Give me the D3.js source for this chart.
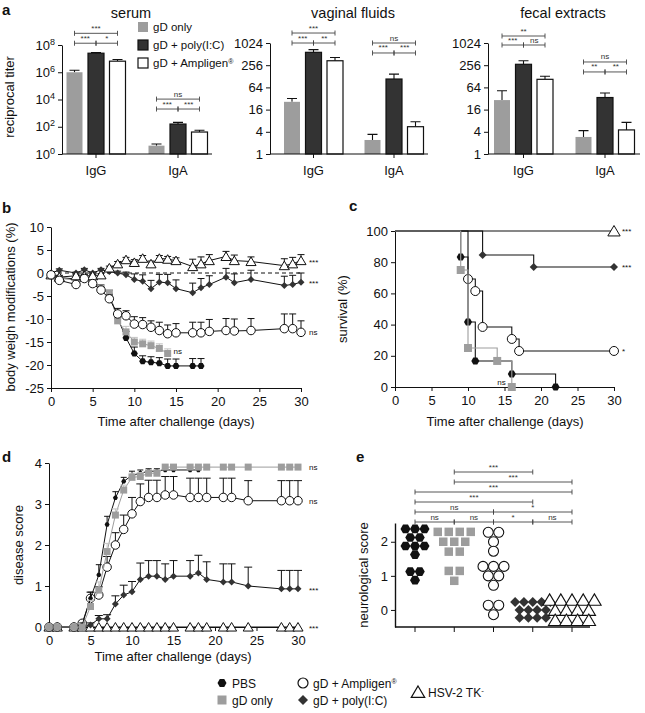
<!DOCTYPE html>
<html>
<head>
<meta charset="utf-8">
<script src="https://cdn.jsdelivr.net/npm/d3@7"></script>
<style>
  body { margin: 0; background: #fff; }
</style>
</head>
<body>
<div id="chart"></div>
<script>
// ---------- panel a : reciprocal titers ----------
const isotypes = ['IgG', 'IgA'];
const groupsA = ['gD only', 'gD + poly(I:C)', 'gD + Ampligen'];

const serumMean = [[1.0e6, 2.5e7, 6.5e6], [4.1, 158, 41]];
const serumUpper = [[1.4e6, 2.8e7, 8.7e6], [5.4, 209, 55]];
const vaginalMean = [[26, 572, 338], [2.4, 108, 5.5]];
const vaginalUpper = [[32, 676, 416], [3.4, 147, 7.5]];
const fecalMean = [[29, 271, 106], [2.9, 34, 4.5]];
const fecalUpper = [[52, 338, 128], [4.3, 45, 7.2]];

// isotype, from group, to group, label, bracket height (titer units)
const serumStats = [
  ['IgG', 0, 2, '***', 7.2e8], ['IgG', 0, 1, '***', 1.35e8], ['IgG', 1, 2, '*', 1.35e8],
  ['IgA', 0, 2, 'ns', 1.07e4], ['IgA', 0, 1, '***', 2000], ['IgA', 1, 2, '***', 2000]
];
const vaginalStats = [
  ['IgG', 0, 2, '***', 1910], ['IgG', 0, 1, '***', 1024], ['IgG', 1, 2, '**', 1024],
  ['IgA', 0, 2, 'ns', 1024], ['IgA', 0, 1, '***', 549], ['IgA', 1, 2, '***', 549]
];
const fecalStats = [
  ['IgG', 0, 2, '**', 1585], ['IgG', 0, 1, '***', 903], ['IgG', 1, 2, 'ns', 903],
  ['IgA', 0, 2, 'ns', 313], ['IgA', 0, 1, '**', 168], ['IgA', 1, 2, '**', 168]
];
const serumTicks = [1, 1e2, 1e4, 1e6, 1e8];
const mucosalTicks = [1, 4, 16, 64, 256, 1024];

// ---------- panel b : body weight (%) ----------
const days = [0, 1, 3, 4, 5, 6, 7, 8, 9, 10, 11, 12, 13, 14, 15, 17, 18, 19, 21, 22, 24, 28, 29, 30];
const daysPBS = [0, 1, 3, 4, 5, 6, 7, 8, 9, 10, 11, 12, 13, 14, 15, 17, 18];
const daysGDb = [0, 1, 3, 4, 5, 6, 7, 8, 9, 10, 11, 12, 13, 14];

const weightTK = [-0.4, -0.9, -0.6, -0.6, -0.6, -0.4, 1.1, 2, 2.9, 2.3, 3.2, 2, 3.2, 3, 2.7, 1.4, 2, 2.7, 3.6, 2.7, 2.5, 1.6, 2, 2.7];
const weightTKErr = [0.3, 0.4, 0.3, 0.3, 0.3, 0.3, 0.4, 0.5, 0.5, 0.6, 0.6, 0.6, 0.6, 0.6, 0.6, 1.6, 1.5, 1.3, 1.1, 1.2, 1.0, 1.5, 1.4, 1.3];
const weightPolyIC = [0, 0.6, 0, 0.7, 0, 0.7, 0.3, 0, -0.4, -1.4, -1.8, -3.4, -2, -2.1, -3.4, -4.3, -3.2, -2.5, -0.9, -2.1, -1.4, -2.7, -2.5, -2];
const weightPolyICErr = [0.2, 0.3, 0.2, 0.3, 0.2, 0.3, 0.3, 0.4, 0.6, 1.2, 1.4, 1.8, 1.7, 1.8, 1.9, 2.1, 2, 1.9, 1.9, 1.9, 2, 2, 2, 2];
const weightAmpligen = [-0.4, -1.6, -2.5, -1.2, -2.3, -3.7, -5.6, -8.9, -9.3, -11.1, -11.2, -11.8, -12.5, -13.2, -13, -13, -13, -12.7, -12.5, -12.6, -12.5, -12.1, -12.1, -12.9];
const weightAmpligenErr = [0.3, 0.4, 0.4, 0.4, 0.5, 0.6, 0.8, 1.2, 1.1, 1.6, 1.5, 1.4, 1.8, 1.9, 2, 2.3, 2.3, 2.6, 2.6, 2.6, 2.6, 3.2, 3.2, 2.5];
const weightGD = [-0.5, -1.2, -1.5, -1, -2, -3.5, -4.4, -10.4, -12.8, -15, -15.4, -15.8, -16.4, -17.5];
const weightGDErr = [0.3, 0.4, 0.4, 0.4, 0.5, 0.7, 0.8, 1.2, 1.2, 1.0, 1.0, 1.0, 1.0, 1.0];
const weightPBS = [-0.3, -1, -1.3, -0.8, -1.8, -3.3, -4.6, -9.8, -14.1, -17.5, -19.2, -19.4, -19.6, -20.2, -20.2, -20.2, -20.2];
const weightPBSErr = [0.3, 0.4, 0.4, 0.4, 0.5, 0.7, 0.9, 1.3, 1.4, 1.4, 1.2, 1.2, 1.2, 1.5, 1.5, 1.6, 1.6];

// ---------- panel c : survival (%) ----------
const survTKt = [0, 30], survTK = [100, 100];
const survPolyICt = [0, 12, 19, 30], survPolyIC = [100, 84.6, 76.9, 76.9];
const survAmpligent = [0, 10, 11, 12, 16, 17, 30], survAmpligen = [100, 69.2, 61.5, 38.5, 30.8, 23.1, 23.1];
const survPBSt = [0, 9, 10, 11, 16, 22], survPBS = [100, 83.3, 41.7, 16.7, 8.3, 0];
const survGDt = [0, 9, 10, 14, 16], survGD = [100, 75, 25, 16.7, 0];

// ---------- panel d : disease score ----------
const scoreTK = [0, 0, 0, 0, 0, 0, 0, 0, 0, 0, 0, 0, 0, 0, 0, 0, 0, 0, 0, 0, 0, 0, 0, 0];
const scorePolyIC = [0, 0, 0, 0, 0.05, 0.2, 0.2, 0.56, 0.78, 0.86, 1.16, 1.24, 1.24, 1.16, 1.24, 1.24, 1.32, 1.16, 1.1, 1.1, 1.0, 0.93, 0.93, 0.93];
const scorePolyICErr = [0, 0, 0, 0, 0.05, 0.08, 0.1, 0.2, 0.24, 0.25, 0.4, 0.38, 0.38, 0.38, 0.38, 0.38, 0.43, 0.43, 0.44, 0.44, 0.46, 0.45, 0.45, 0.45];
const scoreAmpligen = [0, 0, 0, 0.09, 0.7, 0.78, 1.46, 2.0, 2.38, 2.76, 3.06, 3.16, 3.16, 3.22, 3.22, 3.16, 3.16, 3.16, 3.16, 3.16, 3.08, 3.08, 3.08, 3.08];
const scoreAmpligenErr = [0, 0, 0, 0.05, 0.15, 0.2, 0.26, 0.3, 0.35, 0.4, 0.43, 0.42, 0.42, 0.45, 0.45, 0.47, 0.47, 0.47, 0.47, 0.47, 0.49, 0.49, 0.49, 0.49];
const scoreGD = [0, 0, 0, 0, 0.5, 0.9, 1.84, 2.73, 3.34, 3.65, 3.67, 3.75, 3.75, 3.9, 3.9, 3.9, 3.9, 3.9, 3.9, 3.9, 3.9, 3.9, 3.9, 3.9];
const scoreGDErr = [0, 0, 0, 0, 0.15, 0.2, 0.2, 0.15, 0.12, 0.1, 0.1, 0.08, 0.08, 0, 0, 0, 0, 0, 0, 0, 0, 0, 0, 0];
const scorePBS = [0, 0, 0, 0.05, 0.7, 1.27, 2.5, 3.15, 3.55, 3.7, 3.75, 3.8, 3.8, 3.83, 3.83, 3.83, 3.83];
const scorePBSErr = [0, 0, 0, 0.05, 0.15, 0.25, 0.2, 0.15, 0.1, 0.1, 0.08, 0.06, 0.06, 0.05, 0.05, 0.05, 0.05];

// ---------- panel e : neurological score ----------
const groupsE = ['PBS', 'gD only', 'gD + Ampligen', 'gD + poly(I:C)', 'HSV-2 TK-'];
const neuroPBS = [2, 2, 2, 2, 2, 2, 2, 2, 2, 1, 1, 1];
const neuroGD = [2, 2, 2, 2, 2, 2, 2, 2, 2, 1, 1, 1];
const neuroAmpligen = [2, 2, 2, 2, 1, 1, 1, 1, 1, 1, 0, 0, 0];
const neuroPolyIC = [0, 0, 0, 0, 0, 0, 0, 0, 0, 0, 0, 0, 0];
const neuroTK = [0, 0, 0, 0, 0, 0, 0, 0, 0, 0, 0, 0, 0];
// from group, to group, label, row (top = 0)
const neuroStats = [
  [1, 3, '***', 0], [1, 4, '***', 1], [0, 4, '***', 2], [0, 3, '***', 3],
  [0, 2, 'ns', 4], [2, 4, '*', 4],
  [0, 1, 'ns', 5], [1, 2, 'ns', 5], [2, 3, '*', 5], [3, 4, 'ns', 5]
];

// ================= drawing =================
const GRAY = '#9d9d9d', DARK = '#333', INK = '#111', LIGHT = '#c2c2c2';

const svg = d3.select('#chart').append('svg')
  .attr('width', 645).attr('height', 713)
  .style('font-family', '"Liberation Sans", Arial, sans-serif');

const hexPath = (r) => {
  const pts = [0, 1, 2, 3, 4, 5].map(i => [r * Math.cos(Math.PI / 3 * i), r * Math.sin(Math.PI / 3 * i)]);
  return 'M' + pts.join('L') + 'Z';
};
const markerStyle = {
  hex: [INK, 'none'], square: [GRAY, 'none'], circle: ['#fff', INK],
  diamond: [DARK, 'none'], triangle: ['#fff', INK]
};
const markerPath = (type, s) => {
  if (type === 'hex') return hexPath(s / 2);
  if (type === 'square') return `M${-s / 2},${-s / 2}h${s}v${s}h${-s}Z`;
  if (type === 'circle') return d3.symbol(d3.symbolCircle, Math.PI * s * s / 4)();
  if (type === 'diamond') return `M0,${-s / 2}L${s / 2},0L0,${s / 2}L${-s / 2},0Z`;
  return `M0,${-s * 0.5}L${s * 0.56},${s * 0.45}L${-s * 0.56},${s * 0.45}Z`;
};
const addMarkers = (g, pts, type, s, sw = 1) => {
  g.append('g').selectAll('path').data(pts).enter().append('path')
    .attr('d', markerPath(type, s))
    .attr('transform', d => `translate(${d[0]},${d[1]})`)
    .attr('fill', markerStyle[type][0])
    .attr('stroke', markerStyle[type][1])
    .attr('stroke-width', sw);
};

const styleAxis = (g, fs = 13) => {
  g.attr('font-family', null).attr('font-size', fs);
  g.select('.domain').attr('stroke', INK);
  g.selectAll('.tick line').attr('stroke', INK);
  g.selectAll('.tick text').attr('fill', INK);
};

const addText = (g, x, y, txt, opts = {}) => {
  const t = g.append('text').attr('x', x).attr('y', y)
    .attr('font-size', opts.size || 13)
    .attr('text-anchor', opts.anchor || 'middle')
    .attr('fill', INK)
    .text(txt);
  if (opts.bold) t.attr('font-weight', 'bold');
  if (opts.rotate) t.attr('transform', `rotate(-90,${x},${y})`);
  return t;
};

const bracket = (g, x1, x2, y, label) => {
  g.append('path')
    .attr('d', `M${x1},${y - 2.5}V${y + 2.5}M${x1},${y}H${x2}M${x2},${y - 2.5}V${y + 2.5}`)
    .attr('stroke', '#444').attr('stroke-width', 0.9).attr('fill', 'none');
  addText(g, (x1 + x2) / 2, y - 2.5, label, { size: 8 }).attr('fill', '#333');
};

// ---------- panel a ----------
const drawTiterPanel = (cfg) => {
  const g = svg.append('g');
  const base = 154;
  const x0 = d3.scalePoint().domain(isotypes).range(cfg.centers);
  const x1 = d3.scalePoint().domain(groupsA).range([-21.5, 21.5]);
  const y = cfg.log2
    ? d3.scaleLog().base(2).domain([1, 1024]).range([base, cfg.top])
    : d3.scaleLog().domain([1, 1e8]).range([base, cfg.top]);

  addText(g, cfg.titleX, 18, cfg.title, { size: 14.5 });

  const bars = [];
  isotypes.forEach((iso, i) => groupsA.forEach((grp, j) => {
    bars.push({ iso, grp, j, mean: cfg.mean[i][j], upper: cfg.upper[i][j] });
  }));
  const fills = [GRAY, DARK, '#fff'];
  const strokes = ['none', INK, INK];

  // error bars (upward)
  g.append('g').selectAll('path').data(bars).enter().append('path')
    .attr('d', d => {
      const cx = x0(d.iso) + x1(d.grp);
      return `M${cx},${y(d.mean)}V${y(d.upper)}M${cx - 5},${y(d.upper)}H${cx + 5}`;
    })
    .attr('stroke', INK).attr('stroke-width', 1.1).attr('fill', 'none');

  g.append('g').selectAll('rect').data(bars).enter().append('rect')
    .attr('x', d => x0(d.iso) + x1(d.grp) - 8)
    .attr('width', 16)
    .attr('y', d => y(d.mean))
    .attr('height', d => base - y(d.mean))
    .attr('fill', d => fills[d.j])
    .attr('stroke', d => strokes[d.j])
    .attr('stroke-width', 1.2);

  // axes
  const ya = g.append('g').attr('transform', `translate(${cfg.left},0)`)
    .call(d3.axisLeft(y).tickValues(cfg.ticks).tickSize(4).tickSizeOuter(0).tickPadding(3))
    .call(styleAxis);
  if (!cfg.log2) {
    ya.selectAll('.tick text').each(function (d) {
      const t = d3.select(this);
      t.text(null);
      t.append('tspan').text('10');
      t.append('tspan').attr('dy', '-0.55em').attr('font-size', 9).text(Math.round(Math.log10(d)));
    });
  } else {
    ya.selectAll('.tick text').text(d => d);
  }
  g.append('path').attr('d', `M${cfg.left},${base}H${cfg.right}`).attr('stroke', INK).attr('stroke-width', 1.2);
  g.selectAll('.xt').data(isotypes).enter().append('path')
    .attr('d', d => `M${x0(d)},${base}v4`).attr('stroke', INK);
  isotypes.forEach(iso => addText(g, x0(iso), 175, iso, { size: 13 }));

  cfg.stats.forEach(s => {
    const cx = x0(s[0]);
    bracket(g, cx + x1(groupsA[s[1]]), cx + x1(groupsA[s[2]]), y(s[4]), s[3]);
  });
};

drawTiterPanel({ title: 'serum', titleX: 131, left: 62, right: 212, centers: [96, 178], top: 45,
  ticks: serumTicks, mean: serumMean, upper: serumUpper, stats: serumStats, log2: false });
drawTiterPanel({ title: 'vaginal fluids', titleX: 353, left: 270, right: 428, centers: [313.5, 394], top: 43,
  ticks: mucosalTicks, mean: vaginalMean, upper: vaginalUpper, stats: vaginalStats, log2: true });
drawTiterPanel({ title: 'fecal extracts', titleX: 563, left: 488, right: 640, centers: [523.5, 605], top: 43,
  ticks: mucosalTicks, mean: fecalMean, upper: fecalUpper, stats: fecalStats, log2: true });

addText(svg, 2, 15, 'a', { size: 15, bold: true, anchor: 'start' });
addText(svg, 14, 97, 'reciprocal titer', { size: 13, rotate: true });

// legend of panel a
const legA = svg.append('g');
groupsA.forEach((grp, j) => {
  const cy = 27 + j * 18;
  legA.append('rect').attr('x', 138).attr('y', cy - 5).attr('width', 10).attr('height', 10)
    .attr('fill', [GRAY, DARK, '#fff'][j]).attr('stroke', j ? INK : 'none').attr('stroke-width', 1.2);
  const t = addText(legA, 153, cy + 4, grp, { size: 11.5, anchor: 'start' });
  if (j === 2) t.append('tspan').attr('dy', '-0.5em').attr('font-size', 7).text('®');
});

// ---------- shared time-course helpers ----------
const drawCourse = (g, x, y, t, vals, errs, type, size, color, errColor, cap) => {
  const pts = t.map((d, i) => [x(d), y(vals[i])]);
  g.append('path').attr('d', d3.line()(pts)).attr('fill', 'none').attr('stroke', color).attr('stroke-width', 1);
  g.append('g').selectAll('path').data(t).enter().append('path')
    .attr('d', (d, i) => errs[i] ? `M${x(d)},${y(vals[i])}V${y(vals[i] + errs[i])}M${x(d) - cap},${y(vals[i] + errs[i])}H${x(d) + cap}` : '')
    .attr('stroke', errColor).attr('stroke-width', 1).attr('fill', 'none');
  addMarkers(g, pts, type, size);
};
const intFmt = d => String(d);

// ---------- panel b ----------
const xB = d3.scaleLinear().domain([0, 30]).range([51, 301]);
const yB = d3.scaleLinear().domain([-25, 10]).range([388, 227]);
const gB = svg.append('g');
gB.append('g').attr('transform', 'translate(0,388)')
  .call(d3.axisBottom(xB).tickValues([0, 5, 10, 15, 20, 25, 30]).tickSize(4).tickSizeOuter(0).tickPadding(5).tickFormat(intFmt))
  .call(styleAxis);
gB.append('g').attr('transform', 'translate(51,0)')
  .call(d3.axisLeft(yB).tickValues([-25, -20, -15, -10, -5, 0, 5, 10]).tickSize(4).tickSizeOuter(0).tickFormat(intFmt))
  .call(styleAxis);
gB.append('path').attr('d', `M${xB(0)},${yB(0)}H${xB(30)}`).attr('stroke', INK).attr('stroke-dasharray', '4,3');

drawCourse(gB, xB, yB, daysPBS, weightPBS, weightPBSErr, 'hex', 7, INK, INK, 3.5);
drawCourse(gB, xB, yB, daysGDb, weightGD, weightGDErr, 'square', 7, GRAY, LIGHT, 3.5);
drawCourse(gB, xB, yB, days, weightPolyIC, weightPolyICErr, 'diamond', 7, INK, INK, 3.5);
drawCourse(gB, xB, yB, days, weightTK, weightTKErr, 'triangle', 9, INK, INK, 3.5);
drawCourse(gB, xB, yB, days, weightAmpligen, weightAmpligenErr, 'circle', 8.5, INK, INK, 3.5);

addText(gB, 309, yB(2.5) + 3, '***', { size: 8, anchor: 'start' });
addText(gB, 309, yB(-2.2) + 3, '***', { size: 8, anchor: 'start' });
addText(gB, 309, yB(-12.9) + 3, 'ns', { size: 8, anchor: 'start' });
addText(gB, xB(14.7), yB(-16.9) + 3, 'ns', { size: 8, anchor: 'start' });
addText(svg, 2, 213, 'b', { size: 15, bold: true, anchor: 'start' });
addText(svg, 15, 307, 'body weigh modifications (%)', { size: 13, rotate: true });
addText(svg, 176, 426, 'Time after challenge (days)', { size: 13 });

// ---------- panel c ----------
const xC = d3.scaleLinear().domain([0, 30]).range([395, 614]);
const yC = d3.scaleLinear().domain([0, 100]).range([387, 231]);
const gC = svg.append('g');
gC.append('g').attr('transform', 'translate(0,387)')
  .call(d3.axisBottom(xC).tickValues([0, 5, 10, 15, 20, 25, 30]).tickSize(4).tickSizeOuter(0).tickPadding(5).tickFormat(intFmt))
  .call(styleAxis);
gC.append('g').attr('transform', 'translate(395,0)')
  .call(d3.axisLeft(yC).tickValues([0, 20, 40, 60, 80, 100]).tickSize(4).tickSizeOuter(0).tickFormat(intFmt))
  .call(styleAxis);

const drawSurvival = (t, v, type, size, color) => {
  const pts = t.map((d, i) => [xC(d), yC(v[i])]);
  gC.append('path').attr('d', d3.line().curve(d3.curveStepAfter)(pts))
    .attr('fill', 'none').attr('stroke', color).attr('stroke-width', 1.1);
  addMarkers(gC, pts.slice(1), type, size);
};
drawSurvival(survTKt, survTK, 'triangle', 11, INK);
drawSurvival(survPolyICt, survPolyIC, 'diamond', 8, INK);
drawSurvival(survAmpligent, survAmpligen, 'circle', 9, INK);
drawSurvival(survPBSt, survPBS, 'hex', 8, INK);
drawSurvival(survGDt, survGD, 'square', 8, GRAY);

addText(gC, xC(30) + 8, yC(100) + 3, '***', { size: 8, anchor: 'start' });
addText(gC, xC(30) + 8, yC(76.9) + 3, '***', { size: 8, anchor: 'start' });
addText(gC, xC(30) + 8, yC(23.1) + 3, '*', { size: 8, anchor: 'start' });
addText(gC, xC(16) - 6, yC(0) - 2, 'ns', { size: 8, anchor: 'end' });
addText(svg, 349, 211, 'c', { size: 15, bold: true, anchor: 'start' });
addText(svg, 347, 309, 'survival (%)', { size: 13, rotate: true });
addText(svg, 505, 426, 'Time after challenge (days)', { size: 13 });

// ---------- panel d ----------
const xD = d3.scaleLinear().domain([0, 30]).range([49, 298]);
const yD = d3.scaleLinear().domain([0, 4]).range([627, 463]);
const gD = svg.append('g');
gD.append('g').attr('transform', 'translate(0,627)')
  .call(d3.axisBottom(xD).tickValues([0, 5, 10, 15, 20, 25, 30]).tickSize(4).tickSizeOuter(0).tickPadding(5).tickFormat(intFmt))
  .call(styleAxis);
gD.append('g').attr('transform', 'translate(49,0)')
  .call(d3.axisLeft(yD).tickValues([0, 1, 2, 3, 4]).tickSize(4).tickSizeOuter(0).tickFormat(intFmt))
  .call(styleAxis);

drawCourse(gD, xD, yD, days, scoreTK, scoreTK, 'triangle', 9, INK, INK, 4);
drawCourse(gD, xD, yD, days, scorePolyIC, scorePolyICErr, 'diamond', 7, INK, INK, 4);
drawCourse(gD, xD, yD, days, scoreAmpligen, scoreAmpligenErr, 'circle', 8.5, INK, INK, 4);
drawCourse(gD, xD, yD, daysPBS, scorePBS, scorePBSErr, 'hex', 5, INK, INK, 3);
drawCourse(gD, xD, yD, days, scoreGD, scoreGDErr, 'square', 7, GRAY, LIGHT, 3.5);

addText(gD, 309, yD(3.9) + 3, 'ns', { size: 8, anchor: 'start' });
addText(gD, 309, yD(3.08) + 3, 'ns', { size: 8, anchor: 'start' });
addText(gD, 309, yD(0.93) + 4, '***', { size: 8, anchor: 'start' });
addText(gD, 309, yD(0) + 4, '***', { size: 8, anchor: 'start' });
addText(svg, 2, 462, 'd', { size: 15, bold: true, anchor: 'start' });
addText(svg, 23, 545, 'disease score', { size: 13, rotate: true });
addText(svg, 173, 661, 'Time after challenge (days)', { size: 13 });

// ---------- panel e ----------
const xE = d3.scalePoint().domain(groupsE).range([415, 572]);
const yE = d3.scaleLinear().domain([-0.5, 2.55]).range([627, 523]);
const gE = svg.append('g');
gE.append('g').attr('transform', 'translate(395,0)')
  .call(d3.axisLeft(yE).tickValues([0, 1, 2]).tickSize(4).tickSizeOuter(0).tickFormat(intFmt))
  .call(styleAxis);
gE.select('.domain').attr('stroke-width', 1.4);
gE.append('path').attr('d', `M395,627H590`).attr('stroke', INK).attr('stroke-width', 1.6);
gE.append('g').selectAll('path').data(groupsE).enter().append('path')
  .attr('d', d => `M${xE(d)},627v5`).attr('stroke', INK);

// stacked dot layout: alternating rows of k and k-1 points, centred on the value
const swarm = (values, spacing, k) => {
  const pts = [];
  d3.group(values, v => v).forEach((arr, v) => {
    const n = arr.length;
    const kk = Math.max(2, Math.min(k, Math.ceil(Math.sqrt(n)) + (n >= 9 ? 1 : 0)));
    const rows = [];
    for (let left = n, r = 0; left > 0; r++) {
      const w = Math.min(left, r % 2 ? kk - 1 : kk);
      rows.push(w);
      left -= w;
    }
    const dy = spacing * 0.9;
    rows.forEach((w, r) => {
      for (let j = 0; j < w; j++) {
        pts.push({ v, dx: (j - (w - 1) / 2) * spacing, dy: (r - (rows.length - 1) / 2) * dy });
      }
    });
  });
  return pts;
};
const drawSwarm = (grp, values, type, size, spacing, k) => {
  const pts = swarm(values, spacing, k).map(p => [xE(grp) + p.dx, yE(p.v) + p.dy]);
  addMarkers(gE, pts, type, size, 1.1);
};
drawSwarm('PBS', neuroPBS, 'hex', 10, 9.5, 3);
drawSwarm('gD only', neuroGD, 'square', 8.5, 11, 4);
drawSwarm('gD + Ampligen', neuroAmpligen, 'circle', 10, 10.5, 3);
drawSwarm('gD + poly(I:C)', neuroPolyIC, 'diamond', 10, 8.8, 5);
drawSwarm('HSV-2 TK-', neuroTK, 'triangle', 12, 11.2, 5);

neuroStats.forEach(s => bracket(gE, xE(groupsE[s[0]]), xE(groupsE[s[1]]), 472 + s[3] * 10, s[2]));
addText(svg, 356, 462, 'e', { size: 15, bold: true, anchor: 'start' });
addText(svg, 368, 575, 'neurological score', { size: 13, rotate: true });

// ---------- bottom legend ----------
const leg = svg.append('g');
const legendItems = [
  ['hex', 9, 222, 683, 'PBS'], ['square', 9, 222, 700, 'gD only'],
  ['circle', 10, 303, 683, 'gD + Ampligen'], ['diamond', 10, 303, 700, 'gD + poly(I:C)'],
  ['triangle', 12, 418, 692, 'HSV-2 TK']
];
legendItems.forEach(it => {
  addMarkers(leg, [[it[2], it[3]]], it[0], it[1], 1.2);
  const t = addText(leg, it[2] + 10, it[3] + 4.5, it[4], { size: 12, anchor: 'start' });
  if (it[4] === 'gD + Ampligen') t.append('tspan').attr('dy', '-0.5em').attr('font-size', 7).text('®');
  if (it[4] === 'HSV-2 TK') t.append('tspan').attr('dy', '-0.5em').attr('font-size', 8).text('-');
});
</script>
</body>
</html>
